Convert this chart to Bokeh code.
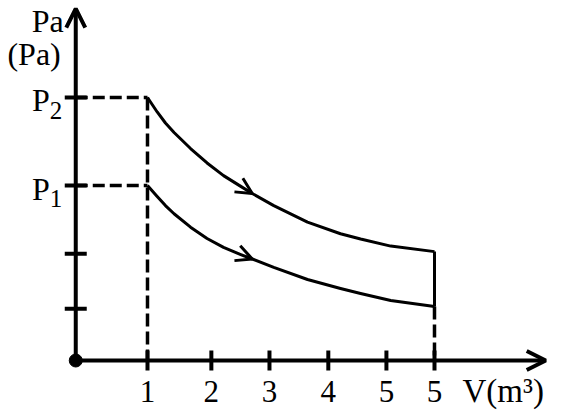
import math
from bokeh.plotting import figure
from bokeh.models import Range1d, Arrow, OpenHead
from bokeh.core.properties import value
from bokeh.embed import file_html
from bokeh.resources import INLINE

# ---- data ----
V = [1.0, 1.135, 1.25, 1.37, 1.6, 1.83, 2.06, 2.3, 2.46, 2.76, 3.23, 3.69, 3.97, 4.39, 5.0]
P_upper = [10.0, 9.45, 9.03, 8.67, 8.06, 7.51, 7.03, 6.62, 6.35, 5.89, 5.26, 4.82, 4.62, 4.35, 4.14]
P_lower = [6.65, 6.24, 5.89, 5.58, 5.07, 4.64, 4.30, 4.03, 3.86, 3.54, 3.08, 2.74, 2.55, 2.28, 2.05]

x_tick_pos = [1.0, 1.89, 2.70, 3.52, 4.33, 5.0]
x_tick_labels = ["1", "2", "3", "4", "5", "5"]
y_plain_ticks = [1.97, 4.06]
y_level_names = ["2", "1"]          # subscripts of P2, P1
x_axis_end = 6.55
y_axis_top = 13.38

FONT = value("Liberation Serif")

p = figure(width=563, height=412,
           x_range=Range1d(-1.0488, 6.798), y_range=Range1d(-1.977, 13.688),
           output_backend="svg", toolbar_location=None,
           x_axis_location=None, y_axis_location=None,
           min_border=0, outline_line_color=None)
p.grid.visible = False

P2 = P_upper[0]
P1 = P_lower[0]
levels = [P2, P1]

# dashed guide lines
for lv in levels:
    p.line([0, V[0]], [lv, lv], line_width=3.5, line_color="black", line_dash="12 5")
p.line([V[0], V[0]], [P2, 0], line_width=3.5, line_color="black", line_dash="13 5")
p.line([V[-1], V[-1]], [P_lower[-1], 0], line_width=3.5, line_color="black", line_dash="13 5")

# curves
p.line(V, P_upper, line_width=3, line_color="black", line_join="round")
p.line(V, P_lower, line_width=3, line_color="black", line_join="round")
p.line([V[-1], V[-1]], [P_upper[-1], P_lower[-1]], line_width=3, line_color="black")

# direction arrows on curves
for curve in (P_upper, P_lower):
    p.add_layout(Arrow(end=OpenHead(size=16, line_width=3, line_color="black"),
                       x_start=V[7], y_start=curve[7], x_end=V[8], y_end=curve[8],
                       line_alpha=0))

# axes with arrows
p.add_layout(Arrow(end=OpenHead(size=19, line_width=4, line_color="black"),
                   x_start=0, y_start=0, x_end=0, y_end=y_axis_top,
                   line_width=4, line_color="black"))
p.add_layout(Arrow(end=OpenHead(size=19, line_width=4, line_color="black"),
                   x_start=0, y_start=0, x_end=x_axis_end, y_end=0,
                   line_width=4, line_color="black"))

# tick marks
p.scatter(x_tick_pos, [0] * len(x_tick_pos), marker="dash", size=20, angle=math.pi / 2,
          line_width=4, line_color="black")
p.scatter([0] * 4, y_plain_ticks + levels, marker="dash", size=22,
          line_width=4, line_color="black")

# origin dot
p.scatter([0], [0], size=13, fill_color="black", line_color="black")

# x tick labels
p.text(x_tick_pos, [0] * len(x_tick_pos), text=x_tick_labels, y_offset=31,
       text_align="center", text_baseline="alphabetic", text_font=FONT,
       text_font_size="31px", text_color="black")
p.text([V[-1]], [0], text=["V(m³)"], x_offset=28, y_offset=30,
       text_align="left", text_baseline="alphabetic", text_font=FONT,
       text_font_size="33px", text_color="black")

# y labels
p.text([0, 0], levels, text=["P", "P"], x_offset=-26, y_offset=3,
       text_align="right", text_baseline="alphabetic", text_font=FONT,
       text_font_size="32px", text_color="black")
p.text([0, 0], levels, text=y_level_names, x_offset=-26, y_offset=13,
       text_align="left", text_baseline="alphabetic", text_font=FONT,
       text_font_size="25px", text_color="black")
p.text([0, 0], [y_axis_top, y_axis_top], text=["Pa", "(Pa)"], x_offset=[-12, -15],
       y_offset=[12, 45], text_align="right", text_baseline="alphabetic",
       text_font=FONT, text_font_size="32px", text_color="black")

open("out.html", "w").write(file_html(p, INLINE))
